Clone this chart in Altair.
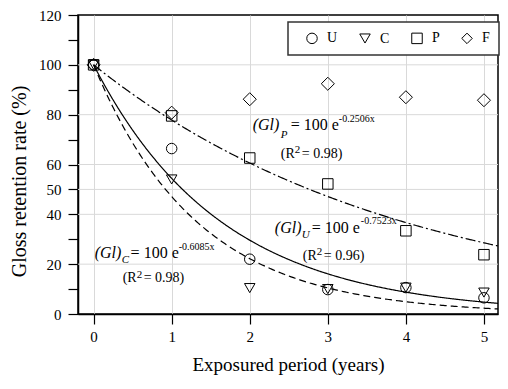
import altair as alt
import pandas as pd

# ---- data ----
years = [0, 1, 2, 3, 4, 5]
gloss_U = [100, 66.4, 22.0, 9.8, 10.6, 6.5]
gloss_C = [100, 54.0, 10.4, 10.0, 10.6, 8.6]
gloss_P = [100, 79.5, 62.6, 52.2, 33.4, 23.8]
gloss_F = [100, 80.8, 86.2, 92.4, 87.0, 85.8]
series = ["U", "C", "P", "F"]
shapes = ["circle", "triangle-down", "square", "diamond"]

# fitted curves (coefficients shown on the chart)
fit_k = {"U": 0.7523, "C": 0.6085, "P": 0.2506}
fit_dash = {"U": [7, 4], "C": [1, 0], "P": [10, 3, 2, 3]}

y_ticks = list(range(0, 121, 10))
y_labels = [0, 20, 40, 50, 60, 80, 100, 120]
y_grid = [20, 40, 50, 60, 80, 100]
x_ticks = [0, 1, 2, 3, 4, 5]

# annotation pieces
ann_text = ["(Gl)", "P", "= 100 e", "-0.2506x", "(R", "2", "= 0.98)",
            "(Gl)", "U", "= 100 e", "-0.7523x", "(R", "2", "= 0.96)",
            "(Gl)", "C", "= 100 e", "-0.6085x", "(R", "2", "= 0.98)"]
ann_x = [2.038, 2.397, 2.526, 3.141, 2.397, 2.577, 2.667,
         2.321, 2.667, 2.795, 3.423, 2.679, 2.859, 2.949,
         0.013, 0.359, 0.474, 1.090, 0.372, 0.551, 0.641]
ann_y = [74.0, 70.8, 74.0, 77.2, 62.8, 64.8, 62.8,
         32.4, 30.4, 32.4, 36.0, 21.6, 23.6, 21.6,
         22.4, 20.4, 22.4, 25.6, 12.8, 14.4, 12.8]
ann_size = [16, 11, 16, 10, 14, 11, 14] * 3
ann_italic = [True, True, False, False, False, False, False] * 3

FONT = "Liberation Serif"

rows = []
for s, vals in zip(series, [gloss_U, gloss_C, gloss_P, gloss_F]):
    for xv, yv in zip(years, vals):
        rows.append({"x": xv, "y": yv, "series": s})
pts = pd.DataFrame(rows)

ann = pd.DataFrame({"t": ann_text, "x": ann_x, "y": ann_y, "s": ann_size, "it": ann_italic})
grid_df = pd.DataFrame({"y": y_grid})

xs = alt.Scale(domain=[-0.2, 5.18], nice=False, zero=False)
ys = alt.Scale(domain=[0, 120], nice=False)

x_axis = alt.Axis(values=x_ticks, format="d", tickSize=10, labelPadding=5,
                  grid=True, gridColor="#d9d9d9", title="Exposured period (years)",
                  titlePadding=11, titleFontSize=19)
label_expr = "indexof([" + ",".join(str(v) for v in y_labels) + "], datum.value) >= 0 ? datum.label : ''"
y_axis = alt.Axis(values=y_ticks, labelExpr=label_expr, tickSize=10, labelPadding=7,
                  grid=False, title="Gloss retention rate (%)", titlePadding=9,
                  titleFontSize=20, titleY=166)

X = alt.X("x:Q", scale=xs, axis=x_axis)
Y = alt.Y("y:Q", scale=ys, axis=y_axis)

grid = alt.Chart(grid_df).mark_rule(color="#d9d9d9", strokeWidth=1).encode(y=Y)

curves = []
for s in ["U", "C", "P"]:
    c = (alt.Chart(alt.sequence(0, 5.2, 0.02, as_="x"))
         .transform_calculate(y=f"100*exp(-{fit_k[s]}*datum.x)")
         .mark_line(color="black", strokeWidth=1.2, strokeDash=fit_dash[s], clip=True)
         .encode(x=X, y=Y))
    curves.append(c)

shape_enc = alt.Shape("series:N", scale=alt.Scale(domain=series, range=shapes), title=None,
                      legend=alt.Legend(orient="none", legendX=210, legendY=7, direction="horizontal"))

points = alt.Chart(pts).transform_filter("datum.series != 'F'").mark_point(
    filled=False, color="black", strokeWidth=1, opacity=1, size=110
).encode(x=X, y=Y, shape=shape_enc)
points_f = alt.Chart(pts).transform_filter("datum.series == 'F'").mark_point(
    filled=False, color="black", strokeWidth=1, opacity=1, size=170
).encode(x=X, y=Y, shape=shape_enc)

txt_it = alt.Chart(ann).transform_filter("datum.it").mark_text(
    align="left", baseline="alphabetic", font=FONT, fontStyle="italic", color="black"
).encode(x=X, y=Y, text="t:N", size=alt.Size("s:Q", scale=None))
txt_n = alt.Chart(ann).transform_filter("!datum.it").mark_text(
    align="left", baseline="alphabetic", font=FONT, color="black"
).encode(x=X, y=Y, text="t:N", size=alt.Size("s:Q", scale=None))

chart = alt.layer(grid, *curves, points, points_f, txt_it, txt_n).properties(
    width=420, height=299,
    autosize=alt.AutoSizeParams(type="none"),
    padding={"left": 70, "top": 7, "right": 2, "bottom": 67},
).configure(font=FONT).configure_view(
    stroke="black", strokeWidth=1.5
).configure_axis(
    labelFont=FONT, titleFont=FONT, labelFontSize=15,
    titleFontWeight="normal", labelColor="black", titleColor="black",
    tickColor="black", domainColor="black", domainWidth=1.5, tickWidth=1.2,
).configure_legend(
    strokeColor="#333", strokeWidth=1.5, fillColor="white", padding=9,
    labelFont=FONT, labelFontSize=14, labelColor="black", labelOffset=8,
    columnPadding=12, symbolStrokeColor="black", symbolFillColor="white",
    symbolStrokeWidth=1, symbolOffset=8, symbolSize=110,
)

chart.save("out.html", embed_options={"renderer": "svg", "actions": False})
